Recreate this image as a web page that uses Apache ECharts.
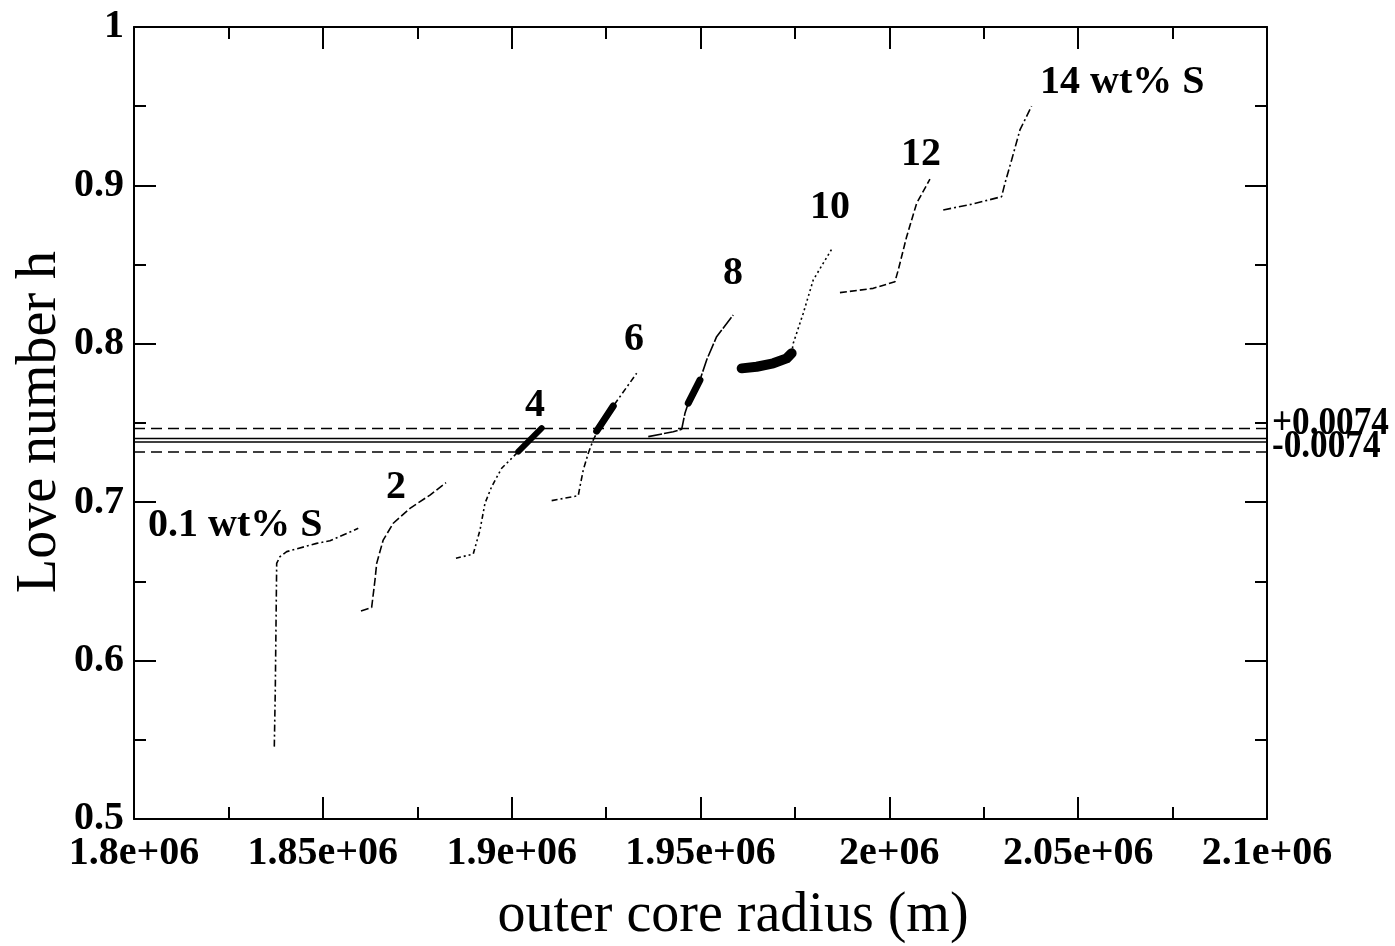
<!DOCTYPE html>
<html>
<head>
<meta charset="utf-8">
<title>Love number h vs outer core radius</title>
<script src="https://cdn.jsdelivr.net/npm/echarts@6/dist/echarts.min.js"></script>
<style>
    html, body { margin: 0; padding: 0; background: #fff; }
    #main { width: 1395px; height: 946px; }
</style>
</head>
<body>
<div id="main"></div>
<script>
// tick labels
var xTickLabels = ['1.8e+06', '1.85e+06', '1.9e+06', '1.95e+06', '2e+06', '2.05e+06', '2.1e+06'];
var yTickLabels = ['0.5', '0.6', '0.7', '0.8', '0.9', '1'];

// curves, one per sulfur content: [outer core radius (m), h]
var curveS01 = [[1837150, 0.5457], [1837410, 0.5814], [1837780, 0.6614], [1838650, 0.6656], [1840430, 0.6688],
    [1848370, 0.6740], [1851890, 0.6757], [1859380, 0.6835]];
var curveS2 = [[1860100, 0.6313], [1862930, 0.6336], [1863810, 0.6509], [1864260, 0.6614], [1865980, 0.6761],
    [1868650, 0.6867], [1873070, 0.6961], [1878370, 0.7045], [1882610, 0.7123]];
var curveS4 = [[1885250, 0.6646], [1889830, 0.6673], [1891610, 0.6824], [1892930, 0.6993], [1894700, 0.7098],
    [1897350, 0.7214], [1901750, 0.7319], [1907940, 0.7467]];
var curveS6 = [[1910590, 0.7010], [1917630, 0.7041], [1918080, 0.7098], [1918960, 0.7203], [1920280, 0.7309],
    [1921610, 0.7393], [1922930, 0.7456], [1926900, 0.7607], [1933100, 0.7814]];
var curveS8 = [[1936170, 0.7414], [1942790, 0.7445], [1945010, 0.7460], [1945880, 0.7561], [1946760, 0.7624],
    [1949850, 0.7771], [1951630, 0.7898], [1954270, 0.8045], [1958670, 0.8182]];
var curveS10 = [[1974130, 0.7940], [1974560, 0.8003], [1977210, 0.8193], [1979850, 0.8403], [1984720, 0.8597]];
var curveS12 = [[1986920, 0.8323], [1995740, 0.8350], [2001480, 0.8392], [2002360, 0.8466], [2004580, 0.8676],
    [2007230, 0.8887], [2010750, 0.9039]];
var curveS14 = [[2014270, 0.8845], [2022210, 0.8883], [2029730, 0.8929], [2030610, 0.9013], [2032380, 0.9160],
    [2034580, 0.9350], [2037670, 0.9501]];

// bold parts (inside the observed range)
var boldS4 = [[1901750, 0.7319], [1907940, 0.7467]];
var boldS6 = [[1922510, 0.7449], [1926900, 0.7607]];
var boldS8 = [[1946760, 0.7626], [1949850, 0.7771]];
var boldS10 = [[1960900, 0.7845], [1964870, 0.7855], [1969260, 0.7877], [1972810, 0.7908], [1974130, 0.7940]];

// observed h and its error
var hObs = 0.7391;
var hErr = 0.0074;
var hObsLines = [0.7402, 0.7380];

var xMin = 1800000;
var xMax = 2100000;

var font = 'Liberation Serif';

function flat (v) {
    return [[xMin, v], [xMax, v]];
}

function curve (data, dash) {
    return {
        type: 'line',
        data: data,
        symbol: 'none',
        silent: true,
        xAxisIndex: 0,
        yAxisIndex: 0,
        lineStyle: { color: '#000', width: 1.6, type: dash }
    };
}

function bold (data, w) {
    return {
        type: 'line',
        data: data,
        symbol: 'none',
        silent: true,
        lineStyle: { color: '#000', width: w, cap: 'round', join: 'round' }
    };
}

function label (text, x, y, align) {
    return {
        type: 'text',
        x: x,
        y: y,
        style: {
            text: text,
            fill: '#000',
            font: 'bold 40px "' + font + '"',
            align: align || 'center',
            verticalAlign: 'middle'
        }
    };
}

var myChart = echarts.init(document.getElementById('main'));

var axisCommon = {
    type: 'value',
    axisLine: { show: true, onZero: false, lineStyle: { color: '#000', width: 2 } },
    axisTick: { show: true, inside: true, length: 22, lineStyle: { color: '#000', width: 2 } },
    minorTick: { show: true, splitNumber: 2, length: 12, lineStyle: { color: '#000', width: 2 } },
    splitLine: { show: false }
};

myChart.setOption({
    animation: false,
    backgroundColor: '#fff',
    grid: { left: 134, right: 128, top: 27, bottom: 127 },
    xAxis: [
        Object.assign({}, axisCommon, {
            min: xMin,
            max: xMax,
            interval: 50000,
            position: 'bottom',
            axisLabel: {
                color: '#000',
                fontFamily: font,
                fontWeight: 'bold',
                fontSize: 40,
                margin: 15,
                formatter: function (v) {
                    return xTickLabels[Math.round((v - xMin) / 50000)];
                }
            }
        }),
        Object.assign({}, axisCommon, {
            min: xMin,
            max: xMax,
            interval: 50000,
            position: 'top',
            axisLabel: { show: false }
        })
    ],
    yAxis: [
        Object.assign({}, axisCommon, {
            min: 0.5,
            max: 1,
            interval: 0.1,
            position: 'left',
            axisLabel: {
                color: '#000',
                fontFamily: font,
                fontWeight: 'bold',
                fontSize: 40,
                margin: 10,
                formatter: function (v) {
                    return yTickLabels[Math.round((v - 0.5) / 0.1)];
                }
            }
        }),
        Object.assign({}, axisCommon, {
            min: 0.5,
            max: 1,
            interval: 0.1,
            position: 'right',
            axisLabel: { show: false }
        })
    ],
    series: [
        // observed value and error bounds
        curve(flat(hObsLines[0]), 'solid'),
        curve(flat(hObsLines[1]), 'solid'),
        curve(flat(hObs + hErr), [11, 6]),
        curve(flat(hObs - hErr), [11, 6]),
        // model curves
        curve(curveS01, [7, 3, 2, 3]),
        curve(curveS2, [8, 3]),
        curve(curveS4, [5, 3, 2, 3, 2, 3]),
        curve(curveS6, [6, 3, 2, 3]),
        curve(curveS8, [14, 2]),
        curve(curveS10, [2, 3]),
        curve(curveS12, [7, 3]),
        curve(curveS14, [8, 3, 2, 3]),
        bold(boldS4, 6),
        bold(boldS6, 7),
        bold(boldS8, 7),
        bold(boldS10, 10)
    ],
    graphic: [
        label('0.1 wt% S', 148, 526, 'left'),
        label('2', 396, 488),
        label('4', 535, 406),
        label('6', 634, 340),
        label('8', 733, 274),
        label('10', 830, 208),
        label('12', 921, 155),
        label('14 wt% S', 1040, 83, 'left'),
        {
            type: 'text',
            x: 1272,
            y: 424,
            scaleX: 0.88,
            style: { text: '+0.0074', fill: '#000', font: 'bold 40px "' + font + '"', verticalAlign: 'middle' }
        },
        {
            type: 'text',
            x: 1272,
            y: 447,
            scaleX: 0.88,
            style: { text: '-0.0074', fill: '#000', font: 'bold 40px "' + font + '"', verticalAlign: 'middle' }
        },
        {
            type: 'text',
            x: 733,
            y: 916,
            style: {
                text: 'outer core radius (m)',
                fill: '#000',
                font: '56px "' + font + '"',
                align: 'center',
                verticalAlign: 'middle'
            }
        },
        {
            type: 'text',
            x: 40,
            y: 422,
            rotation: Math.PI / 2,
            style: {
                text: 'Love number h',
                fill: '#000',
                font: '56px "' + font + '"',
                align: 'center',
                verticalAlign: 'middle'
            }
        }
    ]
});
</script>
</body>
</html>
